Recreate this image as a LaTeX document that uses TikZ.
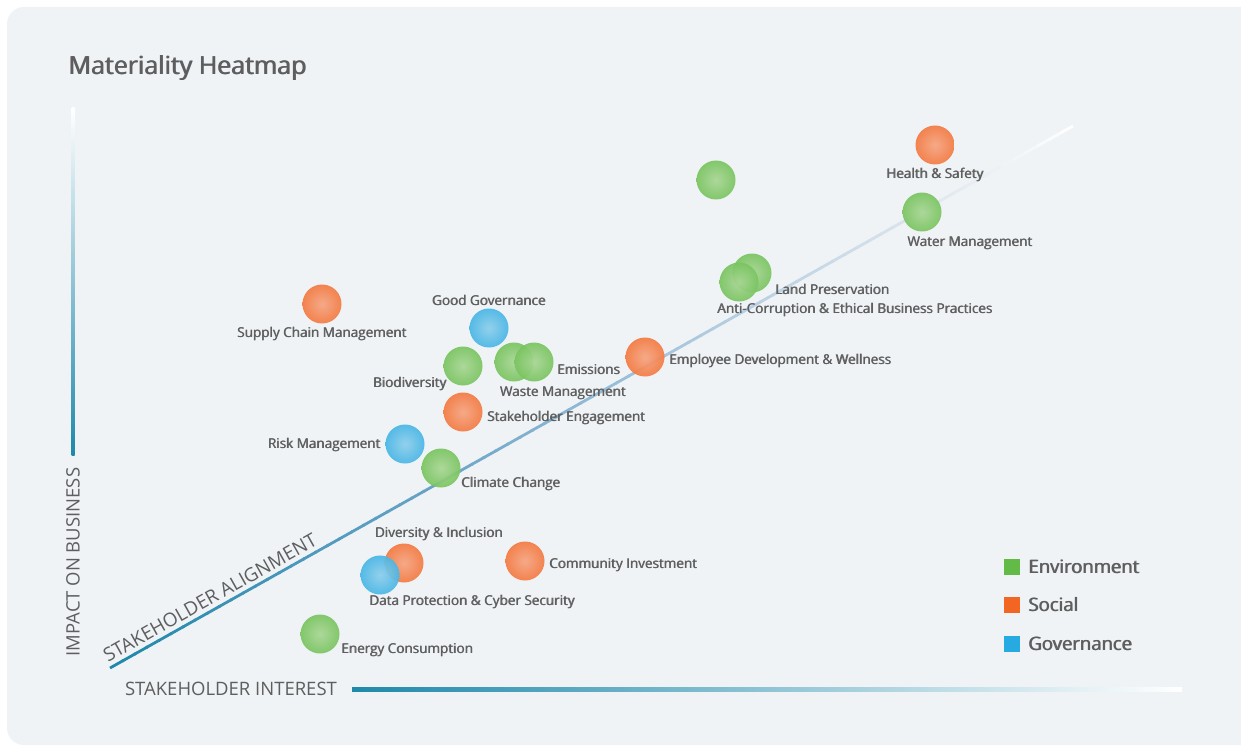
\documentclass[tikz,border=0pt]{standalone}
\usepackage{fontspec}
\setmainfont{Open Sans}
\newcommand\dbl[2]{\rlap{#2}\kern#1#2}
\usetikzlibrary{calc}
\definecolor{bg}{RGB}{239,243,246}
\definecolor{txt}{RGB}{94,94,94}
\definecolor{teal0}{RGB}{31,137,170}
\definecolor{dA}{RGB}{31,135,170}
\definecolor{dB}{RGB}{108,165,200}
\definecolor{dC}{RGB}{172,200,222}
\definecolor{dD}{RGB}{222,230,238}
\definecolor{envc}{RGB}{98,187,70}
\definecolor{socc}{RGB}{242,101,34}
\definecolor{govc}{RGB}{39,170,225}
\definecolor{envd}{RGB}{92,180,62}
\definecolor{socd}{RGB}{238,96,30}
\definecolor{govd}{RGB}{34,164,220}
\definecolor{envl}{RGB}{168,214,148}
\definecolor{socl}{RGB}{246,164,128}
\definecolor{govl}{RGB}{140,206,236}
\pgfdeclareradialshading{bubG}{\pgfpoint{0bp}{0bp}}{color(0bp)=(envl); color(38bp)=(envc); color(50bp)=(envd)}
\pgfdeclareradialshading{bubO}{\pgfpoint{0bp}{0bp}}{color(0bp)=(socl); color(38bp)=(socc); color(50bp)=(socd)}
\pgfdeclareradialshading{bubB}{\pgfpoint{0bp}{0bp}}{color(0bp)=(govl); color(38bp)=(govc); color(50bp)=(govd)}
\tikzset{
  bub/.style={circle, minimum size=39pt, inner sep=0pt, shade, fill opacity=0.93},
  env/.style={bub, shading=bubG},
  soc/.style={bub, shading=bubO},
  gov/.style={bub, shading=bubB},
  lbl/.style={text=txt, inner sep=0pt, font=\fontsize{13.5}{16}\selectfont},
  axlbl/.style={text=txt, inner sep=0pt, font=\fontsize{18.5}{22}\selectfont},
  legbox/.style={minimum size=16pt, inner sep=0pt},
  legtxt/.style={text=txt, inner sep=0pt, anchor=west, font=\fontsize{18.5}{22}\selectfont},
}
\newcommand\lb[1]{\dbl{0.6pt}{#1}}
\begin{document}
\begin{tikzpicture}[x=1pt,y=-1pt]
\useasboundingbox (0,0) rectangle (1241,746);
\fill[white] (0,0) rectangle (1241,746);
\fill[bg, rounded corners=17pt] (7,7) rectangle (1270,745);

% title
\node[anchor=west, text=txt, inner sep=0pt, font=\fontsize{25}{30}\selectfont] (title) at (68,68) {\dbl{0.9pt}{Materiality Heatmap}};

% y axis
\shade[top color=white, middle color={rgb,255:red,178;green,202;blue,220}, bottom color=teal0] (71.5,108) rectangle (74.5,455);
\node[axlbl, rotate=90] (ylab) at (73,562) {IMPACT ON BUSINESS};

% x axis
\shade[left color=teal0, middle color={rgb,255:red,175;green,198;blue,216}, right color=white] (352,687) rectangle (1182,691);
\node[axlbl] (xlab) at (231,689) {STAKEHOLDER INTEREST};

% diagonal alignment line
\coordinate (dS) at (110,668);
\coordinate (dE) at (1073,126);
\foreach \i in {0,...,79}{
  \pgfmathsetmacro\ta{\i/80}
  \pgfmathsetmacro\tb{min((\i+1.15)/80,1)}
  \pgfmathsetmacro\tm{(\i+0.5)/80}
  \pgfmathtruncatemacro\seg{\tm<0.35 ? 0 : (\tm<0.6 ? 1 : (\tm<0.85 ? 2 : 3))}
  \ifcase\seg
    \pgfmathsetmacro\m{100*\tm/0.35}\colorlet{segc}{dB!\m!dA}
  \or
    \pgfmathsetmacro\m{100*(\tm-0.35)/0.25}\colorlet{segc}{dC!\m!dB}
  \or
    \pgfmathsetmacro\m{100*(\tm-0.6)/0.25}\colorlet{segc}{dD!\m!dC}
  \else
    \pgfmathsetmacro\m{100*(\tm-0.85)/0.15}\colorlet{segc}{white!\m!dD}
  \fi
  \draw[segc, line width=2.8pt] ($(dS)!\ta!(dE)$) -- ($(dS)!\tb!(dE)$);
}
\node[text=txt, font=\fontsize{19}{22}\selectfont, rotate=29.37, anchor=south west, inner sep=5pt] (dlab) at ($(dS)!-0.004!(dE)$) {STAKEHOLDER ALIGNMENT};

% bubbles
\node[soc] (hs) at (935,145) {};
\node[lbl] (hsL) at (935,175) {\lb{Health \& Safety}};
\node[env] (ug) at (716,180) {};
\node[env] (wm) at (922,212) {};
\node[lbl] (wmL) at (970,243) {\lb{Water Management}};
\node[env] (lp) at (752,273) {};
\node[env] (ac) at (739,282) {};
\node[lbl, anchor=west] (lpL) at (775,289) {\lb{Land Preservation}};
\node[lbl] (acL) at (855,310) {\lb{Anti-Corruption \& Ethical Business Practices}};
\node[soc] (sc) at (322,304) {};
\node[lbl] (scL) at (322,334) {\lb{Supply Chain Management}};
\node[gov] (gg) at (489,328) {};
\node[lbl] (ggL) at (489,300) {\lb{Good Governance}};
\node[env] (bd) at (463,366) {};
\node[lbl, anchor=east] (bdL) at (447,384) {\lb{Biodiversity}};
\node[env] (wa) at (514,362) {};
\node[env] (em) at (534,362) {};
\node[lbl, anchor=west] (emL) at (557,370) {\lb{Emissions}};
\node[lbl] (waL) at (563,393) {\lb{Waste Management}};
\node[soc] (ed) at (645,357) {};
\node[lbl, anchor=west] (edL) at (669,361) {\lb{Employee Development \& Wellness}};
\node[soc] (se) at (463,412) {};
\node[lbl, anchor=west] (seL) at (487,418) {\lb{Stakeholder Engagement}};
\node[gov] (rm) at (405,444) {};
\node[lbl, anchor=east] (rmL) at (381,445) {\lb{Risk Management}};
\node[env] (cc) at (441,468) {};
\node[lbl, anchor=west] (ccL) at (461,484) {\lb{Climate Change}};
\node[soc] (di) at (404,563) {};
\node[lbl] (diL) at (439,534) {\lb{Diversity \& Inclusion}};
\node[gov] (dp) at (380,575) {};
\node[lbl, anchor=west] (dpL) at (369,602) {\lb{Data Protection \& Cyber Security}};
\node[soc] (ci) at (525,561) {};
\node[lbl, anchor=west] (ciL) at (549,565) {\lb{Community Investment}};
\node[env] (ec) at (320,634) {};
\node[lbl, anchor=west] (ecL) at (341,650) {\lb{Energy Consumption}};

% legend
\node[legbox, fill=envc] (lg1) at (1012,567) {};
\node[legtxt] (lg1t) at (1028,567) {\dbl{0.8pt}{Environment}};
\node[legbox, fill=socc] (lg2) at (1012,605) {};
\node[legtxt] (lg2t) at (1028,605) {\dbl{0.8pt}{Social}};
\node[legbox, fill=govc] (lg3) at (1012,644) {};
\node[legtxt] (lg3t) at (1028,644) {\dbl{0.8pt}{Governance}};
\end{tikzpicture}
\end{document}
